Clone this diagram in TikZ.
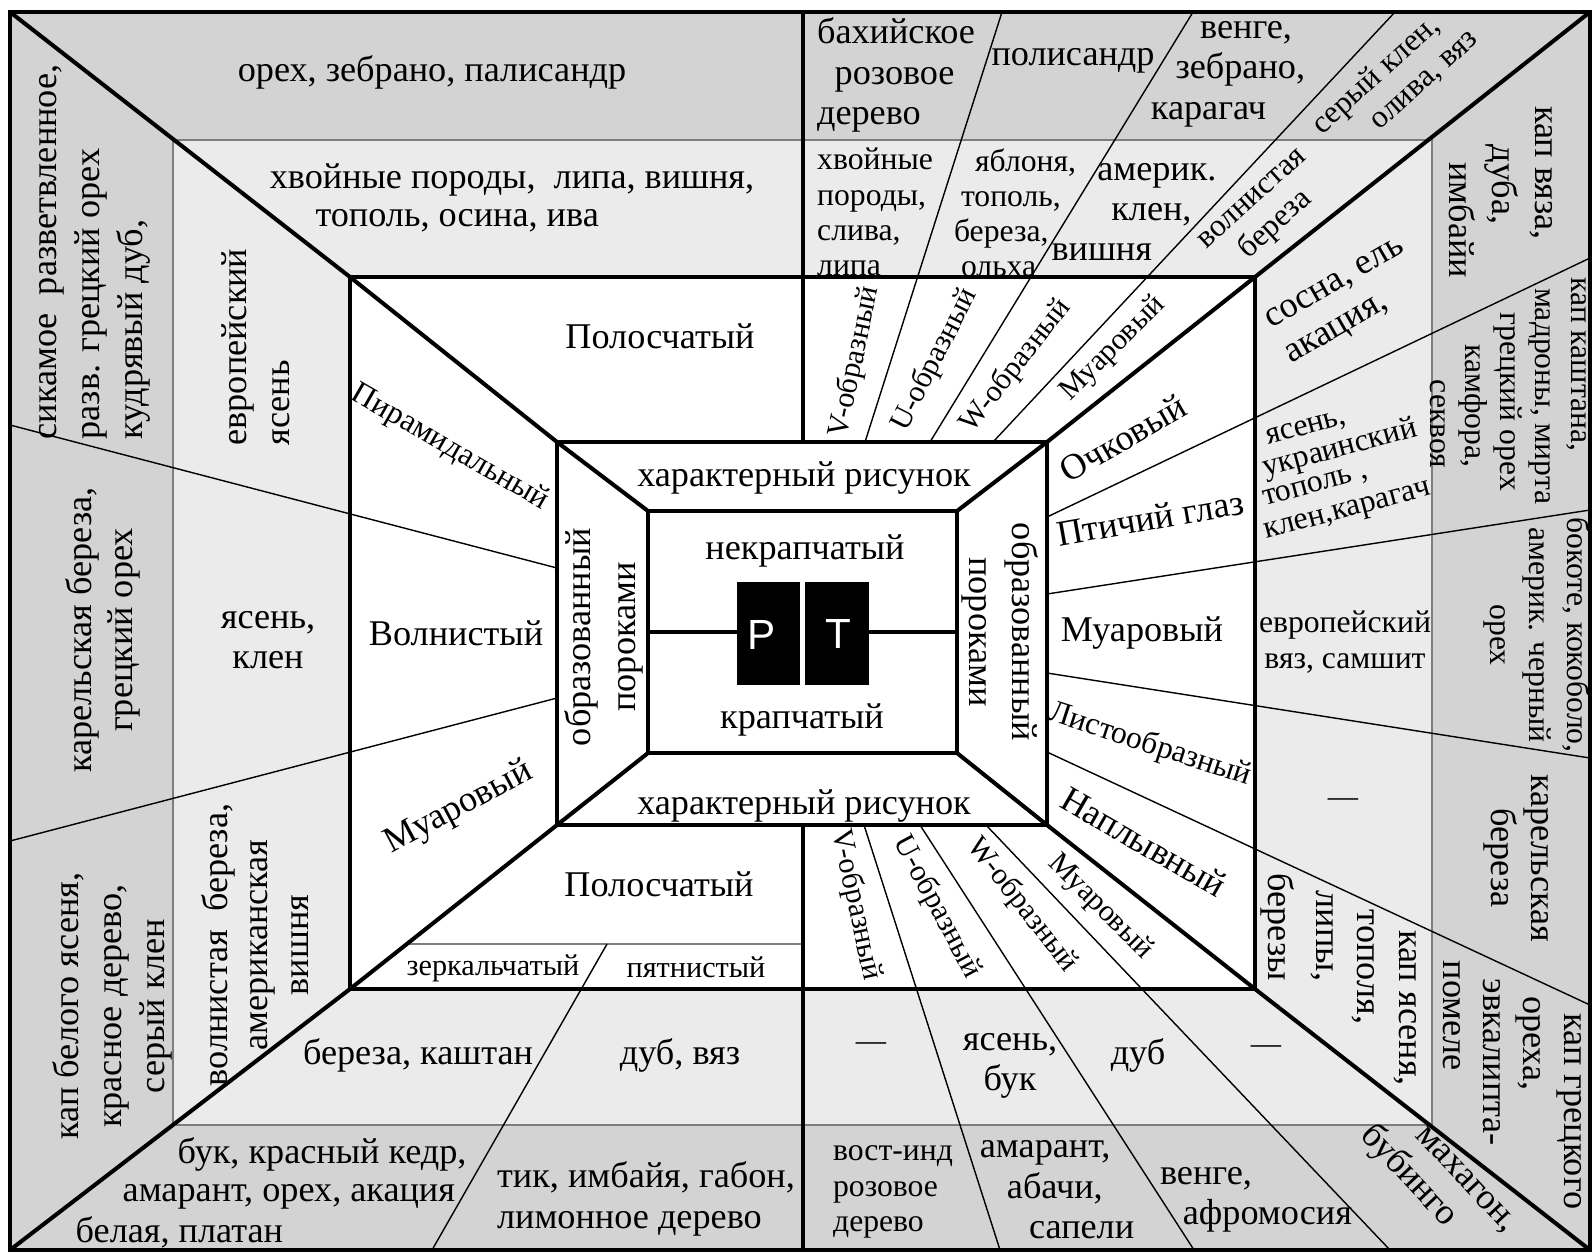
\documentclass[tikz,border=0pt]{standalone}
\usepackage{fontspec}
\setmainfont{Liberation Serif}
\newfontfamily\boxfont{Liberation Sans}
\definecolor{bandgray}{RGB}{211,211,211}
\definecolor{ringfill}{RGB}{235,235,235}
\definecolor{ringgray}{RGB}{125,125,125}
\tikzset{
	heavyrule/.style={line width=1.15pt},
	thinrule/.style={line width=0.4pt},
	ringrule/.style={line width=0.6pt,draw=ringgray},
	txt/.style={inner sep=0pt,align=center,font=\fontsize{10.3}{11.5}\selectfont},
	txtwide/.style={txt,font=\fontsize{10.3}{12.2}\selectfont},
	txtsm/.style={txt,font=\fontsize{9}{10}\selectfont},
	txtxs/.style={txt,font=\fontsize{8.6}{9.8}\selectfont},
	boxletter/.style={inner sep=0pt,text=white,font=\boxfont\fontsize{12}{12}\selectfont}
}
\begin{document}
\begin{tikzpicture}[x=0.01cm,y=-0.01cm]

\def\BANDOUTER{bandgray}
\def\BANDINNER{ringfill}
	\useasboundingbox (0,0) rectangle (1595,1257);
	\coordinate (oTL) at (10,12);
	\coordinate (oTR) at (1590,12);
	\coordinate (oBR) at (1590,1250);
	\coordinate (oBL) at (10,1250);
	\coordinate (wTL) at (350,277);
	\coordinate (wTR) at (1255,277);
	\coordinate (wBR) at (1255,989);
	\coordinate (wBL) at (350,989);
	\coordinate (cTL) at (557,442);
	\coordinate (cTR) at (1047,442);
	\coordinate (cBR) at (1047,825);
	\coordinate (cBL) at (557,825);
	\coordinate (iTL) at (648,511);
	\coordinate (iTR) at (957,511);
	\coordinate (iBR) at (957,753);
	\coordinate (iBL) at (648,753);
	\fill[\BANDOUTER] (oTL) rectangle (oBR);
	\fill[\BANDINNER] (173,140) rectangle (1432,1125);
	\fill[white] (wTL) rectangle (wBR);
	\draw[ringrule] (173,140) rectangle (1432,1125);
	\draw[ringrule] (407,944) -- (803,944);

	\draw[thinrule] (10,425) -- (cTL |- 0,568);
	\draw[thinrule] (10,841) -- (cBL |- 0,698);
	\draw[thinrule] (cTR |- 0,517) -- (1590,258);
	\draw[thinrule] (cTR |- 0,594) -- (1590,510);
	\draw[thinrule] (cTR |- 0,673) -- (1590,758);
	\draw[thinrule] (cTR |- 0,752) -- (1590,1005);
	\draw[thinrule] (1002,12) -- (865,442);
	\draw[thinrule] (1193,12) -- (930,442);
	\draw[thinrule] (1395,12) -- (993,442);
	\draw[thinrule] (864,825) -- (1000,1250);
	\draw[thinrule] (920,825) -- (1194,1250);
	\draw[thinrule] (986,825) -- (1390,1250);
	\draw[thinrule] (607,944) -- (432,1250);

	\draw[heavyrule] (oTL) rectangle (oBR);
	\draw[heavyrule] (wTL) rectangle (wBR);
	\draw[heavyrule] (cTL) rectangle (cBR);
	\draw[heavyrule] (iTL) rectangle (iBR);
	\draw[heavyrule] (oTL) -- (wTL) -- (cTL) -- (iTL);
	\draw[heavyrule] (oTR) -- (wTR) -- (cTR) -- (iTR);
	\draw[heavyrule] (oBR) -- (wBR) -- (cBR) -- (iBR);
	\draw[heavyrule] (oBL) -- (wBL) -- (cBL) -- (iBL);
	\draw[heavyrule] (803,12) -- (803,442);
	\draw[heavyrule] (803,825) -- (803,1250);
	\draw[heavyrule] (648,632) -- (737,632);
	\draw[heavyrule] (869,632) -- (957,632);
	\fill[black] (737,582) rectangle (800,685);
	\fill[black] (805,582) rectangle (869,685);
	\node[boxletter] (pletter) at (762,635) {P};
	\node[boxletter] (tletter) at (838,634) {T};

	\node[txt] (orekh) at (432,72) {орех, зебрано, палисандр};
	\node[txt,align=left,font=\fontsize{10.3}{10.6}\selectfont] (khvoi) at (512,198) {хвойные породы,\ \ липа, вишня,\\\hspace*{13pt}тополь, осина, ива};
	\node[txt] (polostop) at (660,336) {Полосчатый};
	\node[txt,align=left] (bakhia) at (896,75) {бахийское\\\hspace*{5pt}розовое\\дерево};
	\node[txt] (polisandr) at (1073,61) {полисандр};
	\node[txt,align=left] (venge) at (1228,74) {\hspace*{14pt}венге,\\\hspace*{7pt}зебрано,\\карагач};
	\node[txtsm,rotate=42,align=left] (seryi) at (1395,82) {серый клен,\\\hspace*{13pt}олива, вяз};
	\node[txtsm,align=left] (khvoi2) at (875,212) {хвойные\\породы,\\слива,\\липа};
	\node[txtsm,align=left] (yablonya) at (1015,213) {\hspace*{6pt}яблоня,\\\hspace*{2pt}тополь,\\береза,\\\hspace*{2pt}ольха};
	\node[txt,align=left] (amerik) at (1134,212) {\hspace*{13pt}америк.\\\hspace*{17pt}клен,\\вишня};
	\node[txtsm,rotate=42] (volnber2) at (1266,214) {волнистая\\береза};
	\node[txtwide,rotate=-90,align=left] (kapvyaza) at (1501,192) {кап вяза,\\\hspace*{11pt}дуба,\\\hspace*{16pt}имбайи};
	\node[txtsm,rotate=-90,align=left] (kapkasht) at (1508,391) {кап каштана,\\\hspace*{3pt}мадроны, мирта\\\hspace*{10pt}грецкий орех\\\hspace*{19pt}камфора,\\\hspace*{29pt}секвоя};

	\node[txt,rotate=30,align=left] (sosna) at (1346,303) {сосна, ель\\акация,};
	\node[txtsm,rotate=15,anchor=west] (yasenuk1) at (1266,440) {ясень,};
	\node[txtsm,rotate=15,anchor=west] (yasenuk2) at (1263,470) {украинский};
	\node[txtsm,rotate=15,anchor=west] (yasenuk3) at (1263,501) {тополь ,};
	\node[txtsm,rotate=15,anchor=west] (yasenuk4) at (1265,535) {клен,карагач};
	\node[txtsm] (evrvyaz) at (1345,642) {европейский\\вяз, самшит};
	\node[txtxs] (dashR) at (1343,803) {—};
	\node[txt,rotate=-90] (kapyas1) at (1405,1008) {кап ясеня,};
	\node[txt,rotate=-90] (kapyas2) at (1363,967) {тополя,};
	\node[txt,rotate=-90] (kapyas3) at (1322,936) {липы,};
	\node[txt,rotate=-90] (kapyas4) at (1278,927) {березы};
	\node[txt,rotate=-90] (karelR) at (1516,858) {карельская\\береза};
	\node[txtsm,rotate=-90,font=\fontsize{9}{11}\selectfont] (bokote) at (1537,635) {бокоте, кокоболо,\\америк. черный\\орех};
	\node[txt,rotate=-90,align=left] (kapgrets) at (1512,1085) {\hspace*{15pt}кап грецкого\\\hspace*{10pt}ореха,\\\hspace*{5pt}эвкалипта-\\помеле};

	\node[txt,rotate=30] (ochk) at (1123,438) {Очковый};
	\node[txt,rotate=10] (ptich) at (1150,518) {Птичий глаз};
	\node[txt] (muarR) at (1142,633) {Муаровый};
	\node[txtsm,rotate=-18] (listo) at (1150,745) {Листообразный};
	\node[txt,rotate=-30] (naplyv) at (1144,842) {Наплывный};

	\node[txtxs,rotate=78] (vtop) at (855,362) {V-образный};
	\node[txtxs,rotate=63] (utop) at (935,360) {U-образный};
	\node[txtxs,rotate=52] (wtop) at (1016,366) {W-образный};
	\node[txtxs,rotate=45] (muartop) at (1113,349) {Муаровый};
	\node[txtxs,rotate=-78] (vbot) at (856,905) {V-образный};
	\node[txtxs,rotate=-62] (ubot) at (937,907) {U-образный};
	\node[txtxs,rotate=-52] (wbot) at (1022,905) {W-образный};
	\node[txtxs,rotate=-45] (muarbot) at (1100,907) {Муаровый};

	\node[txtxs] (dashB1) at (871,1047) {—};
	\node[txt] (yasenbuk) at (1010,1066) {ясень,\\бук};
	\node[txt] (dubR) at (1138,1055) {дуб};
	\node[txtxs] (dashB2) at (1266,1050) {—};
	\node[txtsm,align=left] (vostind) at (893,1192) {вост-инд\\розовое\\дерево};
	\node[txt,align=left] (amarant) at (1057,1190) {амарант,\\\hspace*{7.7pt}абачи,\\\hspace*{14pt}сапели};
	\node[txt,align=left] (venge2) at (1256,1200) {венге,\\\hspace*{6.5pt}афромосия};
	\node[txt,rotate=-47,align=left] (makhag) at (1436,1182) {\hspace*{10.5pt}махагон,\\бубинго};

	\node[txt] (polosbot) at (659,884) {Полосчатый};
	\node[txtxs] (zerkal) at (493,968) {зеркальчатый};
	\node[txtxs] (pyatn) at (696,967) {пятнистый};
	\node[txt] (berkasht) at (418,1055) {береза, каштан};
	\node[txt] (dubvyaz) at (680,1055) {дуб, вяз};
	\node[txt,anchor=west] (buk1) at (177,1154) {бук, красный кедр,};
	\node[txt,anchor=west] (buk2) at (122,1197) {амарант, орех, акация};
	\node[txt,anchor=west] (buk3) at (75,1232) {белая, платан};
	\node[txt,align=left] (tik) at (646,1199) {тик, имбайя, габон,\\лимонное дерево};

	\node[txtwide,rotate=90,align=left,anchor=west] (sikamoe) at (95,440) {сикамое\ \ разветвленное,\\разв. грецкий орех\\кудрявый дуб,};
	\node[txtwide,rotate=90,align=left,anchor=west] (evryasen) at (256,446) {европейский\\ясень};
	\node[txt,rotate=90] (karel) at (103,630) {карельская береза,\\грецкий орех};
	\node[txt] (yasklen) at (268,640) {ясень,\\клен};
	\node[txtwide,rotate=90] (kapbel) at (112,1006) {кап белого ясеня,\\красное дерево,\\серый клен};
	\node[txt,rotate=90] (volnber) at (255,945) {волнистая\ \ береза,\\американская\\вишня};

	\node[txtsm,rotate=-30] (piramid) at (450,448) {Пирамидальный};
	\node[txt] (volnist) at (456,633) {Волнистый};
	\node[txt,rotate=28] (muarL) at (459,808) {Муаровый};

	\node[txt] (kharaktop) at (804,478) {характерный рисунок};
	\node[txt] (kharakbot) at (804,806) {характерный рисунок};
	\node[txt,rotate=90,font=\fontsize{10.3}{12.6}\selectfont] (obrazL) at (604,637) {образованный\\пороками};
	\node[txt,rotate=-90,font=\fontsize{10.3}{12.3}\selectfont] (obrazR) at (1000,632) {образованный\\пороками};
	\node[txt] (nekrap) at (805,551) {некрапчатый};
	\node[txt] (krap) at (802,720) {крапчатый};

\end{tikzpicture}
\end{document}
